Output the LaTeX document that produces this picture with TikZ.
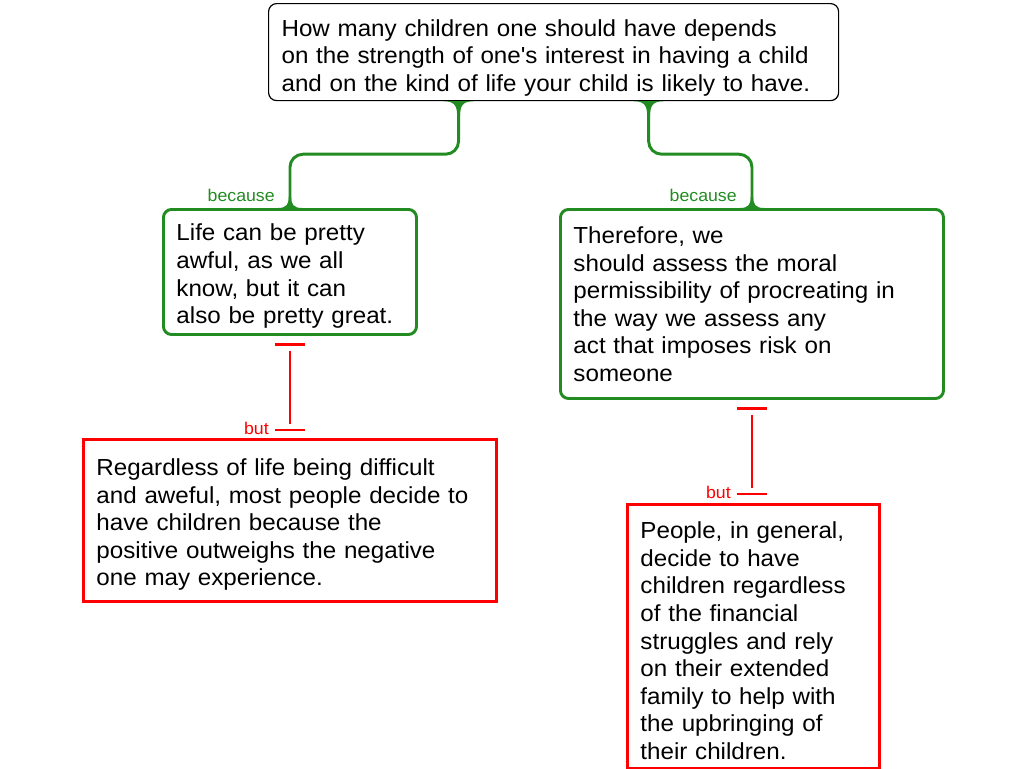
\documentclass[tikz,border=0pt]{standalone}
\usepackage{fontspec}
\setmainfont{Liberation Sans}[FakeStretch=1.042]
\usetikzlibrary{calc}

\definecolor{argreen}{RGB}{34,139,34}
\definecolor{argred}{RGB}{255,0,0}

\tikzset{
  claim/.style={draw, rounded corners=6pt, line width=0.9pt, anchor=north west,
    inner xsep=9.75pt, align=left, text height=19pt, font=\fontsize{17.4}{20.7}\selectfont},
  reason/.style={claim, draw=argreen, line width=2.2pt},
  objection/.style={claim, draw=argred, sharp corners, line width=2.2pt},
  because/.style={draw=argreen, line width=2.2pt, rounded corners=9.75pt},
  but/.style={draw=argred, line width=2.2pt},
  lbl/.style={font=\fontsize{12.75}{14}\selectfont, anchor=east, inner sep=0pt},
  flare/.pic={\fill[argreen] (-15,0) .. controls (-4,0) and (-1.5,5) .. (-1.5,14)
    -- (1.5,14) .. controls (1.5,5) and (4,0) .. (15,0) -- cycle;}
}

\begin{document}
\begin{tikzpicture}[x=0.75pt,y=-0.75pt]
  \path[use as bounding box] (0,0) rectangle (1024,768);

  % claim and reasons
  \node[claim, text width=408pt, minimum width=427.5pt, minimum height=72.75pt, text height=21pt] (q) at (268,3)
    {How many children one should have depends\\on the strength of one\textquotesingle s interest in having a child\\and on the kind of life your child is likely to have.};
  \node[reason, text width=170.25pt, minimum width=189.75pt, minimum height=93.75pt] (life) at (162,208)
    {Life can be pretty\\awful, as we all\\know, but it can\\also be pretty great.};
  \node[reason, text width=267.75pt, minimum width=287.25pt, minimum height=141.75pt, text height=13pt] (risk) at (559,208)
    {Therefore, we\\should assess the moral\\permissibility of procreating in\\the way we assess any\\act that imposes risk on\\someone};

  % objections
  \node[objection, text width=290.25pt, minimum width=309.75pt, minimum height=121.5pt] (hard) at (82,438)
    {Regardless of life being difficult\\and aweful, most people decide to\\have children because the\\positive outweighs the negative\\one may experience.};
  \node[objection, text width=169.5pt, minimum width=189pt, minimum height=198pt] (help) at (626,503)
    {People, in general,\\decide to have\\children regardless\\of the financial\\struggles and rely\\on their extended\\family to help with\\the upbringing of\\their children.};

  \coordinate (q1) at ($(q.south)+(-95,0)$);
  \coordinate (q2) at ($(q.south)+(95,0)$);

  \draw[because] (q1) -- ++(0,53) -| (life.north);
  \draw[because] (q2) -- ++(0,53) -| (risk.north);
  \pic at (q1) {flare};
  \pic at (q2) {flare};
  \pic[xscale=0.8, yscale=-0.8] at (life.north) {flare};
  \pic[xscale=0.8, yscale=-0.8] at (risk.north) {flare};
  \node[lbl, text=argreen] (bc1) at ($(life.north)+(-15,-13)$) {because};
  \node[lbl, text=argreen] (bc2) at ($(risk.north)+(-15,-13)$) {because};

  \draw[but, shorten <=11.25pt, shorten >=10.5pt] (life.south) -- (hard.north);
  \draw[but] ($(life.south)+(-15,9)$) -- ++(30,0);
  \draw[but] ($(hard.north)+(-15,-8)$) -- ++(30,0);
  \node[lbl, text=argred] (bt1) at ($(hard.north)+(-21,-10)$) {but};

  \draw[but, shorten <=11.25pt, shorten >=11.25pt] (risk.south) -- (risk.south |- help.north);
  \draw[but] ($(risk.south)+(-15,9)$) -- ++(30,0);
  \draw[but] ($(risk.south |- help.north)+(-15,-9)$) -- ++(30,0);
  \node[lbl, text=argred] (bt2) at ($(risk.south |- help.north)+(-21,-11)$) {but};
\end{tikzpicture}
\end{document}
